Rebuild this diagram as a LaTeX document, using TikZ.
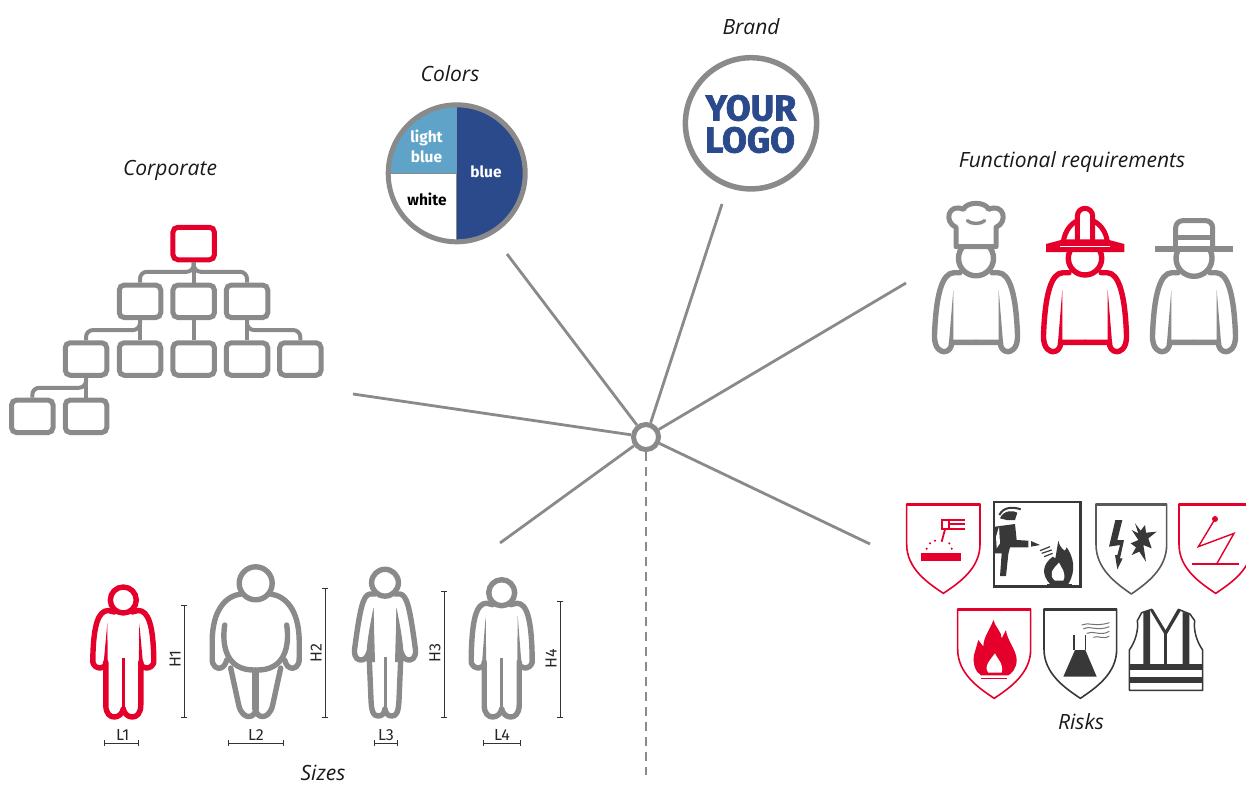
\documentclass[tikz,border=0pt]{standalone}
\usepackage{fontspec}
\setmainfont{Open Sans}
\newfontfamily\figfont{Fira Sans}
\newfontfamily\logofont[FakeBold=2]{Fira Sans}
\usetikzlibrary{arrows.meta,calc}
\definecolor{lineg}{HTML}{8A8A8A}
\definecolor{redc}{HTML}{E4002B}
\definecolor{bluec}{HTML}{2B4A8B}
\definecolor{lblue}{HTML}{5FA3C9}
\definecolor{darkc}{HTML}{383838}
\tikzset{
 spoke/.style={draw=lineg,line width=2.8pt},
 caption/.style={font=\itshape\fontsize{21}{25}\selectfont,inner sep=0pt,text=black!90},
 orgbox/.style={draw=#1,line width=5pt,rounded corners=5pt,minimum width=41.5pt,minimum height=32.5pt,inner sep=0pt,fill=white},
 orgline/.style={draw=lineg,line width=4pt,rounded corners=7pt},
 thing/.style={draw=#1,line width=5.4pt,line cap=round,line join=round},
 dimline/.style={draw=black!80,line width=1pt,{Bar[width=6pt]}-{Bar[width=6pt]}},
 dimtext/.style={font=\figfont\fontsize{16}{18}\selectfont,inner sep=0pt,text=black!85},
 pietext/.style={font=\figfont\bfseries\fontsize{15.5}{19.5}\selectfont,inner sep=0pt,align=center},
 shieldline/.style={draw=#1,line width=1.6pt,line join=round,fill=white},
}
\newcommand{\sym}[2]{\begin{scope}[shift={(#1,0)}]#2\end{scope}\begin{scope}[shift={(#1,0)},xscale=-1]#2\end{scope}}
% stocky figure: centre x, head y, colour
\newcommand{\stocky}[3]{%
 \sym{#1}{%
  \draw[thing=#3] (9,{#2+12}) -- (15,{#2+10.5}) .. controls (25,{#2+10.5}) and (30,{#2+25}) .. (30.5,660) .. controls (31,667) and (25,668) .. (23,668) .. controls (20,668) and (17.5,666) .. (17.5,662) -- (17.5,705) .. controls (17.5,714) and (13,717) .. (9,717) .. controls (5,717) and (1,714) .. (0,709);
  \fill[#3] (16,{#2+23}) -- (20,667) -- (15.5,667) -- cycle;
 }
 \draw[draw=#3,line width=3pt] (#1,658) -- (#1,710);
 \draw[thing=#3] (#1,#2) circle (13);
}
% worker body: centre x, colour
\newcommand{\workerbody}[2]{%
 \sym{#1}{%
  \draw[thing=#2] (16,272.7) -- (22,272.7) .. controls (34,272.7) and (40,295) .. (41.5,335) .. controls (42,350) and (34,351.7) .. (32,351.7) .. controls (27,351.7) and (24,347) .. (24.5,342.3) -- (0,342.3);
  \fill[#2] (22.7,290) -- (27,342) -- (22.7,342) -- cycle;
 }
}
% shield in crop units: left, top, width, height, colour
\newcommand{\shield}[5]{%
 \draw[shieldline=#5] (#1,#2) -- ({#1+#3},#2) -- ({#1+#3},{#2+#4*0.45}) .. controls ({#1+#3},{#2+#4*0.72}) and ({#1+#3*0.72},{#2+#4*0.88}) .. ({#1+#3/2},{#2+#4}) .. controls ({#1+#3*0.28},{#2+#4*0.88}) and (#1,{#2+#4*0.72}) .. (#1,{#2+#4*0.45}) -- cycle;
 \fill[#5] (#1,{#2-2}) rectangle ({#1+#3},{#2+7});
}
\begin{document}
\begin{tikzpicture}[x=1pt,y=-1pt]
\useasboundingbox (0,0) rectangle (1246,785);
% ---- spokes
\coordinate (endcorp) at (353,394);
\coordinate (endcolors) at (507,254);
\coordinate (endbrand) at (722,204);
\coordinate (endfunc) at (906,283);
\coordinate (endrisk) at (870,544);
\coordinate (endsizes) at (500,543);
\coordinate (enddash) at (646,775);
\node[draw=lineg,line width=5pt,circle,minimum size=25pt,inner sep=0pt,fill=white] (hub) at (646,437) {};
\draw[spoke] (hub) -- (endcorp);
\draw[spoke] (hub) -- (endcolors);
\draw[spoke] (hub) -- (endbrand);
\draw[spoke] (hub) -- (endfunc);
\draw[spoke] (hub) -- (endrisk);
\draw[spoke] (hub) -- (endsizes);
\draw[spoke,dash pattern=on 9pt off 6pt] (hub) -- (enddash);
% ---- captions
\node[caption] (capbrand) at (751,26.5) {Brand};
\node[caption] (capcolors) at (450,74) {Colors};
\node[caption] (capcorp) at (170,170) {Corporate};
\node[caption] (capfunc) at (1072,162) {Functional requirements};
\node[caption] (caprisk) at (1081,722) {Risks};
\node[caption] (capsizes) at (323,773) {Sizes};
% ---- org chart
\node[orgbox=redc] (o0) at (193.7,243.5) {};
\node[orgbox=lineg] (o1) at (140,301.3) {};
\node[orgbox=lineg] (o2) at (193.7,301.3) {};
\node[orgbox=lineg] (o3) at (247,301.3) {};
\node[orgbox=lineg] (o4) at (86,359) {};
\node[orgbox=lineg] (o5) at (140,359) {};
\node[orgbox=lineg] (o6) at (193.7,359) {};
\node[orgbox=lineg] (o7) at (247,359) {};
\node[orgbox=lineg] (o8) at (300.3,359) {};
\node[orgbox=lineg] (o9) at (32.3,416.3) {};
\node[orgbox=lineg] (o10) at (86,416.3) {};
\draw[orgline] (o0.south) -- ++(0,9.5) -| (o1.north);
\draw[orgline] (o0.south) -- (o2.north);
\draw[orgline] (o0.south) -- ++(0,9.5) -| (o3.north);
\draw[orgline] (o1.south) -- (o5.north);
\draw[orgline] (o1.south) -- ++(0,10) -| (o4.north);
\draw[orgline] (o2.south) -- (o6.north);
\draw[orgline] (o3.south) -- (o7.north);
\draw[orgline] (o3.south) -- ++(0,10) -| (o8.north);
\draw[orgline] (o4.south) -- (o10.north);
\draw[orgline] (o4.south) -- ++(0,10) -| (o9.north);
% ---- colours pie
\fill[white] (456.7,173.3) circle (68.5);
\fill[lblue] (456.7,173.3) -- (388.2,173.3) arc (180:270:68.5) -- cycle;
\fill[bluec] (456.7,104.8) arc (270:450:68.5) -- cycle;
\draw[lineg,line width=1pt] (388.2,173.3) -- (456.7,173.3) -- (456.7,241.8);
\draw[lineg,line width=5pt] (456.7,173.3) circle (68.5);
\node[pietext,text=white] (tlb) at (426.5,146.5) {light\\blue};
\node[pietext,text=white] (tb) at (486,172) {blue};
\node[pietext,text=black] (tw) at (427,199) {white};
% ---- logo
\draw[lineg,line width=5.5pt] (751,123.3) circle (65.6);
\node[font=\logofont\bfseries\fontsize{36}{32}\selectfont,text=bluec,inner sep=0pt] (logo) at (751,108) {YOUR};
\node[font=\logofont\bfseries\fontsize{36}{32}\selectfont,text=bluec,inner sep=0pt] (logob) at (750,140) {LOGO};
% ---- workers
\workerbody{976}{lineg}
\draw[thing=lineg] (976,258.3) circle (17.5);
\workerbody{1085}{redc}
\draw[thing=redc] (1085,258.3) circle (16.7);
\workerbody{1194}{lineg}
\draw[thing=lineg] (1194,258.3) circle (18);
\begin{scope}[shift={(920,190)},scale=1/3]
 % chef hat
 \draw[lineg,line width=5pt,line join=round,fill=white] (108,170) -- (108,112) .. controls (70,95) and (85,38) .. (130,58) .. controls (140,34) and (196,34) .. (206,58) .. controls (251,38) and (266,95) .. (228,112) -- (228,170) -- cycle;
 \draw[lineg,line width=3.4pt,line cap=round] (142,92) .. controls (152,103) and (184,103) .. (194,92);
 % fire helmet
 \fill[white] (430,160) .. controls (435,115) and (455,100) .. (470,92) -- (520,92) .. controls (535,100) and (555,115) .. (562,160) -- cycle;
 \draw[redc,line width=5pt] (430,155) .. controls (435,120) and (455,100) .. (472,92);
 \draw[redc,line width=5pt] (562,155) .. controls (557,120) and (537,100) .. (518,92);
 \draw[redc,line width=5pt,fill=white] (472,155) -- (472,78) arc (180:360:23) -- (518,155);
 \fill[redc] (378,162) -- (430,148) -- (560,148) -- (613,162) -- (613,186) -- (378,186) -- cycle;
 \fill[white] (420,167) rectangle (570,171);
 % farmer hat
 \draw[lineg,line width=5pt,fill=white,rounded corners=7pt] (767,175) -- (767,92) -- (878,92) -- (878,175);
 \draw[lineg,line width=5pt] (767,143) -- (878,143);
 \fill[white] (774,152) rectangle (871,167);
 \fill[lineg] (705,168) rectangle (940,185);
\end{scope}
% ---- sizes figures
\stocky{123.3}{600}{redc}
\stocky{501.7}{592.7}{lineg}
% fat one
\sym{255.7}{%
 \draw[thing=lineg] (15,594) .. controls (30,596) and (43,610) .. (43.5,640) -- (43.5,658) .. controls (44,667) and (38,669) .. (35,668) .. controls (32,667) and (30,664) .. (29,660);
 \draw[thing=lineg] (31,625) .. controls (34,645) and (30,671) .. (0,670);
 \draw[thing=lineg] (25,668) -- (17,705) .. controls (15,714) and (10,716.5) .. (7,716.5) .. controls (3,716.5) and (1,714) .. (0,710);
}
\draw[lineg,line width=6.6pt] (255.7,670) -- (255.7,710);
\draw[thing=lineg] (255.7,583.3) circle (16.5);
% slim one
\sym{385}{%
 \draw[thing=lineg] (10,594) -- (15,594) .. controls (22,595) and (25,608) .. (30.5,650) .. controls (31,659) and (26,660) .. (24,660) .. controls (21,660) and (18,658) .. (16,652) -- (14,700) .. controls (13.5,713) and (11,716) .. (7,716) .. controls (3,716) and (1,714) .. (0,709);
 \fill[lineg] (11.5,608) .. controls (15,625) and (18,640) .. (19,660) -- (14,662) -- (10,662) -- cycle;
}
\draw[lineg,line width=3pt] (385,657) -- (385,710);
\fill[white] (385,612) -- (374,612) -- (375.5,655) -- (394.5,655) -- (396,612) -- cycle;
\sym{385}{\fill[lineg] (11.5,608) .. controls (14,625) and (16,640) .. (16,656) -- (11,656) -- cycle;}
\draw[thing=lineg] (385,582.7) circle (13.4);
% dimensions
\coordinate (h1a) at (184,605); \coordinate (h1b) at (184,717.7);
\coordinate (h2a) at (325,587.7); \coordinate (h2b) at (325,717.7);
\coordinate (h3a) at (444,590.7); \coordinate (h3b) at (444,717.7);
\coordinate (h4a) at (560,601); \coordinate (h4b) at (560,717.7);
\draw[dimline] (h1a) -- (h1b);
\draw[dimline] (h2a) -- (h2b);
\draw[dimline] (h3a) -- (h3b);
\draw[dimline] (h4a) -- (h4b);
\node[dimtext,rotate=90] (th1) at (175,659) {H1};
\node[dimtext,rotate=90] (th2) at (316,652.7) {H2};
\node[dimtext,rotate=90] (th3) at (435,653) {H3};
\node[dimtext,rotate=90] (th4) at (551,659) {H4};
\coordinate (l1a) at (104.3,743); \coordinate (l1b) at (139.3,743);
\coordinate (l2a) at (228.3,743); \coordinate (l2b) at (284,743);
\coordinate (l3a) at (374,743); \coordinate (l3b) at (398,743);
\coordinate (l4a) at (482.7,743); \coordinate (l4b) at (521.3,743);
\draw[dimline] (l1a) -- (l1b);
\draw[dimline] (l2a) -- (l2b);
\draw[dimline] (l3a) -- (l3b);
\draw[dimline] (l4a) -- (l4b);
\node[dimtext] (tl1) at (122.7,735) {L1};
\node[dimtext] (tl2) at (256,735) {L2};
\node[dimtext] (tl3) at (386,735) {L3};
\node[dimtext] (tl4) at (502,735) {L4};
% ---- risks, in crop units
\begin{scope}[shift={(900,490)},scale=1/3]
 \shield{20}{42}{220}{268}{redc}
 \shield{588}{42}{212}{270}{black!65}
 \shield{837}{42}{220}{268}{redc}
 \shield{173}{357}{219}{268}{redc}
 \shield{432}{357}{218}{268}{darkc}
 % welding
 \fill[redc] (63,190) rectangle (183,212);
 \foreach \a/\b in {80/176,90/160,105/152,148/160,155/176}{\fill[redc] (\a,\b) circle (3.5);}
 \draw[redc,line width=1.8pt] (195,91) -- (125,91) -- (125,118) -- (195,118);
 \draw[redc,line width=1.8pt] (148,91) -- (148,118) (148,102) -- (195,102);
 \draw[redc,line width=1.8pt] (135,118) -- (125,155);
 % firefighter box
 \draw[darkc,line width=2.4pt] (282,36) rectangle (541,289);
 \draw[darkc,line width=2pt] (298,75) .. controls (310,50) and (340,50) .. (362,58);
 \fill[darkc] (300,85) .. controls (310,60) and (340,60) .. (352,68) -- (345,90) -- (320,90) -- cycle;
 \fill[darkc] (285,110) -- (345,102) -- (350,150) -- (385,152) -- (385,172) -- (330,172) -- (325,192) -- (318,258) -- (300,258) -- (305,190) -- (285,190) -- cycle;
 \fill[white] (288,140) -- (297,110) -- (300,160) -- (290,175) -- cycle;
 \fill[darkc] (393,153) -- (420,165) -- (393,170) -- cycle;
 \draw[darkc,line width=1.2pt] (420,182) -- (450,170) (425,190) -- (455,180) (432,200) -- (458,190);
 \fill[darkc] (475,152) .. controls (478,170) and (490,180) .. (495,182) -- (500,172) .. controls (520,200) and (530,240) .. (505,282) -- (450,282) .. controls (425,255) and (425,225) .. (458,200) -- (466,205) -- cycle;
 \fill[white] (477,218) .. controls (485,235) and (500,250) .. (490,272) -- (465,272) .. controls (445,255) and (455,240) .. (477,218) -- cycle;
 \fill[darkc] (440,283) rectangle (515,289);
 % lightning
 \fill[darkc] (646,90) -- (667,90) -- (652,150) -- (672,150) -- (660,205) -- (668,205) -- (652,238) -- (645,195) -- (652,195) -- (660,165) -- (627,170) -- cycle;
 \fill[darkc] (705,100) -- (722,122) -- (735,105) -- (738,128) -- (770,125) -- (745,145) -- (755,175) -- (730,165) -- (738,215) -- (718,185) -- (695,195) -- (708,172) -- (692,160) -- (715,150) -- (695,120) -- (715,130) -- cycle;
 % mechanical
 \fill[redc] (945,87) circle (9);
 \draw[redc,line width=1.4pt] (945,87) -- (895,170) -- (1002,130) -- (950,222);
 \draw[redc,line width=1.6pt] (875,222) -- (1018,222);
 % flame
 \fill[redc] (280,390) .. controls (285,410) and (305,425) .. (305,445) -- (318,420) .. controls (320,450) and (350,480) .. (350,510) .. controls (350,535) and (335,550) .. (325,556) -- (243,556) .. controls (225,545) and (218,520) .. (222,495) -- (235,450) -- (250,470) .. controls (250,440) and (270,420) .. (280,390) -- cycle;
 \fill[white] (285,490) .. controls (290,505) and (312,520) .. (305,548) -- (265,548) .. controls (250,530) and (270,510) .. (285,490) -- cycle;
 \draw[redc,line width=1.3pt] (243,565) -- (320,565);
 % flask
 \fill[darkc] (525,480) -- (556,480) -- (590,560) -- (490,560) -- cycle;
 \draw[darkc,line width=1.4pt] (522,435) -- (522,480) (556,435) -- (556,480);
 \draw[black!55,line width=1pt] (545,405) .. controls (565,395) and (585,412) .. (628,398);
 \draw[black!55,line width=1pt] (550,417) .. controls (570,405) and (590,425) .. (628,410);
 \draw[black!55,line width=1pt] (560,430) .. controls (580,420) and (600,440) .. (628,424);
 \draw[black!55,line width=1pt] (580,442) .. controls (595,435) and (610,450) .. (628,438);
 % vest
 \draw[darkc,line width=1.5pt,line join=round,fill=white] (725,368) -- (755,358) -- (795,428) -- (835,358) -- (870,372) -- (884,392) .. controls (880,420) and (890,455) .. (908,480) -- (908,601) -- (688,601) -- (688,480) .. controls (706,455) and (716,420) .. (712,392) -- cycle;
 \fill[darkc] (730,366) -- (750,359) -- (750,522) -- (730,522) -- cycle;
 \fill[darkc] (848,366) -- (868,372) -- (868,522) -- (848,522) -- cycle;
 \draw[darkc,line width=3pt] (755,360) -- (797,430) -- (838,360);
 \draw[darkc,line width=3pt] (797,430) -- (797,522);
 \fill[darkc] (688,522) rectangle (908,541);
 \fill[darkc] (688,560) rectangle (908,579);
\end{scope}
\end{tikzpicture}
\end{document}
